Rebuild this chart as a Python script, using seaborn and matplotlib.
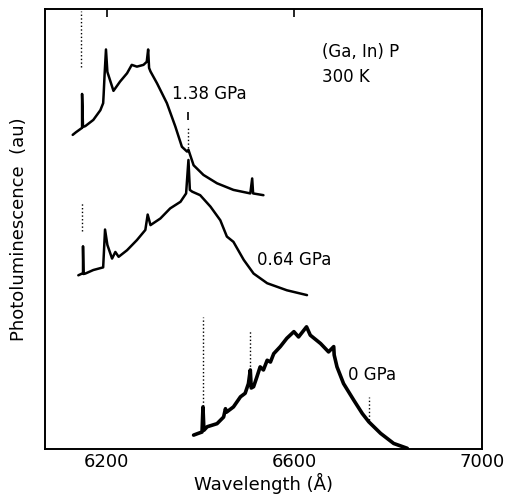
import matplotlib
matplotlib.use('Agg')

import matplotlib.pyplot as plt
import numpy as np
import pandas as pd
import seaborn as sns


# photoluminescence spectra (wavelength in A, intensity in au)
wl_138 = [6127, 6134, 6147, 6147, 6149, 6154, 6171, 6186, 6192, 6193, 6195, 6198,
	6201, 6214, 6228, 6243, 6253, 6264, 6278, 6285, 6288, 6290, 6293, 6307, 6328,
	6346, 6360, 6371, 6374, 6385, 6406, 6435, 6470, 6506, 6510, 6512, 6534]
pl_138 = [7.14, 7.20, 7.30, 8.07, 7.32, 7.34, 7.48, 7.70, 7.86, 8.05, 8.50, 9.08,
	8.57, 8.14, 8.35, 8.54, 8.73, 8.69, 8.73, 8.80, 9.08, 8.66, 8.58, 8.31, 7.86,
	7.33, 6.87, 6.76, 6.80, 6.45, 6.23, 6.04, 5.89, 5.81, 6.15, 5.81, 5.77]

wl_064 = [6139, 6149, 6149, 6150, 6154, 6171, 6192, 6196, 6201, 6211, 6218, 6225,
	6243, 6264, 6282, 6287, 6293, 6314, 6335, 6357, 6369, 6374, 6377, 6382, 6399,
	6421, 6442, 6456, 6470, 6492, 6513, 6542, 6584, 6627]
pl_064 = [3.95, 4.00, 4.61, 3.98, 3.99, 4.07, 4.13, 4.99, 4.64, 4.33, 4.48, 4.37,
	4.52, 4.75, 4.98, 5.33, 5.09, 5.24, 5.47, 5.62, 5.81, 6.57, 5.89, 5.85, 5.77,
	5.51, 5.20, 4.83, 4.71, 4.30, 3.99, 3.77, 3.61, 3.50]

wl_000 = [6385, 6395, 6403, 6405, 6407, 6414, 6435, 6449, 6453, 6455, 6470, 6485,
	6495, 6502, 6506, 6508, 6513, 6520, 6527, 6534, 6542, 6549, 6556, 6570, 6584,
	6599, 6609, 6626, 6634, 6656, 6673, 6684, 6685, 6691, 6705, 6727, 6745, 6759,
	6784, 6812, 6841]
pl_000 = [0.32, 0.36, 0.39, 0.96, 0.43, 0.51, 0.58, 0.73, 0.92, 0.84, 0.96, 1.19,
	1.27, 1.49, 1.80, 1.39, 1.42, 1.64, 1.87, 1.80, 2.02, 1.98, 2.17, 2.33, 2.52,
	2.67, 2.55, 2.78, 2.59, 2.40, 2.21, 2.33, 2.14, 1.87, 1.49, 1.11, 0.81, 0.62,
	0.36, 0.13, 0.02]

# dotted calibration lines
mark_wl = [6145, 6374, 6147, 6405, 6506, 6759]
mark_lo = [8.68, 6.84, 4.95, 0.98, 1.80, 0.66]
mark_hi = [9.95, 7.30, 5.59, 3.00, 2.70, 1.19]

# curve labels
labels = ['1.38 GPa', '0.64 GPa', '0 GPa']
label_wl = [6339, 6520, 6715]
label_pl = [8.07, 4.30, 1.68]

xticks = [6200, 6600, 7000]


spectra = pd.concat([
	pd.DataFrame({'wavelength': wl_138, 'pl': pl_138, 'pressure': labels[0]}),
	pd.DataFrame({'wavelength': wl_064, 'pl': pl_064, 'pressure': labels[1]}),
	pd.DataFrame({'wavelength': wl_000, 'pl': pl_000, 'pressure': labels[2]}),
], ignore_index=True)

sns.set_style('white')
plt.rcParams['font.family'] = ['DejaVu Sans']
plt.rcParams['text.color'] = 'black'
plt.rcParams['axes.labelcolor'] = 'black'
plt.rcParams['xtick.color'] = 'black'

fig = plt.figure(figsize=(5.12, 4.98), dpi=100)
ax = fig.add_axes([0.088, 0.098, 0.853, 0.884])

for p, lw in zip(labels, [1.8, 1.8, 2.6]):
	sns.lineplot(
		data=spectra[spectra['pressure'] == p],
		x='wavelength', y='pl',
		sort=False, estimator=None,
		color='black', lw=lw, ax=ax, legend=False)

ax.vlines(mark_wl, mark_lo, mark_hi, colors='black', linestyles=':', lw=1.0)
ax.vlines([6372], [7.48], [7.66], colors='black', lw=1.2)

for text, x, y in zip(labels, label_wl, label_pl):
	ax.text(x, y, text, fontsize=12, va='center', ha='left')

ax.text(6659, 9.03, '(Ga, In) P', fontsize=12, va='center', ha='left')
ax.text(6659, 8.46, '300 K', fontsize=12, va='center', ha='left')

ax.set_xlim(6068, 7000)
ax.set_ylim(0, 10)
ax.set_xticks(xticks)
ax.set_xticklabels([str(t) for t in xticks], fontsize=13)
ax.set_yticks([])
ax.tick_params(axis='x', direction='in', top=True, length=6, width=1.2, pad=3)

for s in ax.spines.values():
	s.set_visible(True)
	s.set_color('black')
	s.set_linewidth(1.4)

ax.set_xlabel('Wavelength (Å)', fontsize=13, labelpad=1)
ax.set_ylabel('Photoluminescence  (au)', fontsize=13, labelpad=12)

plt.savefig('out.png', dpi=100)
plt.close()
